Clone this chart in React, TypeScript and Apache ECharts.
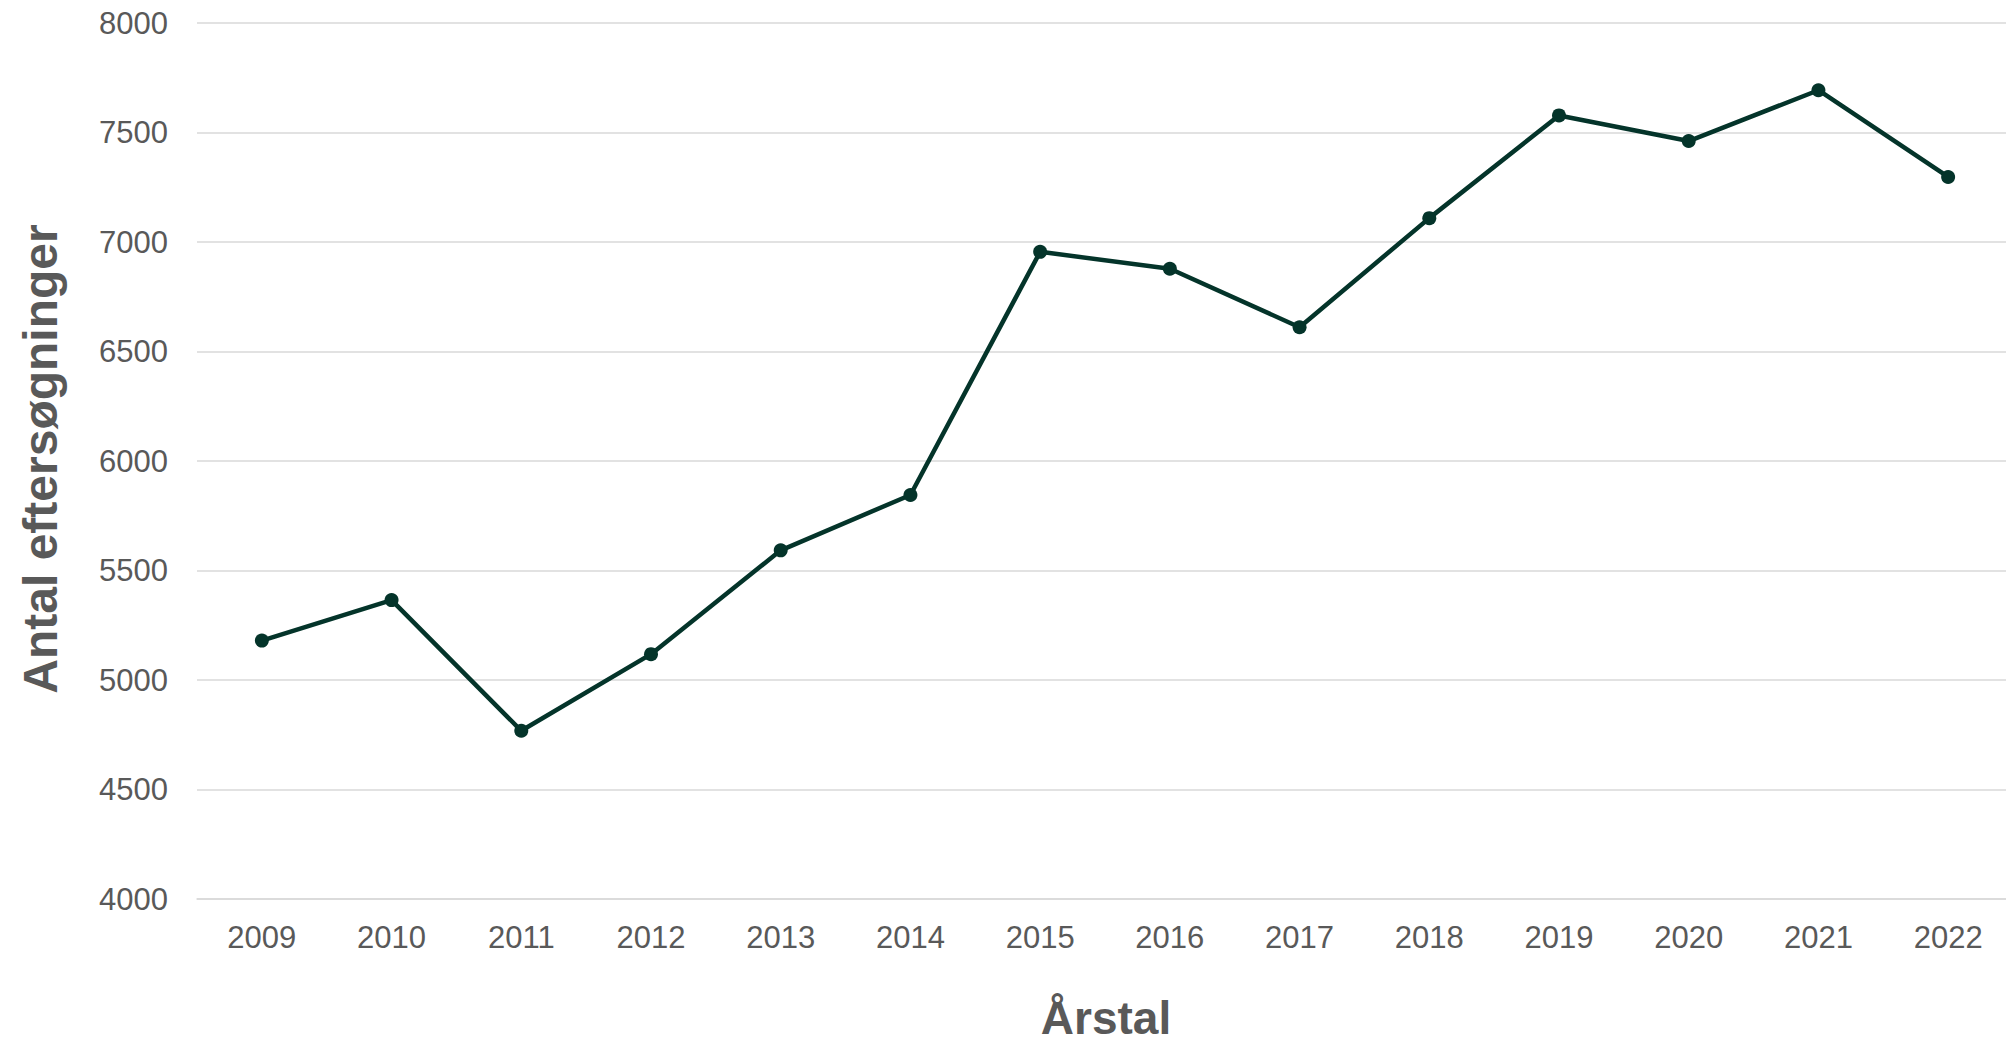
import React, { useEffect, useRef } from "react";
import * as echarts from "echarts";

const years = ["2009", "2010", "2011", "2012", "2013", "2014", "2015", "2016", "2017", "2018", "2019", "2020", "2021", "2022"];
const searches = [5180, 5365, 4768, 5118, 5592, 5845, 6955, 6878, 6611, 7109, 7578, 7461, 7693, 7297];
const yTicks = { min: 4000, max: 8000, interval: 500 };
const xTitle = "Årstal";
const yTitle = "Antal eftersøgninger";

export default function App() {
  const ref = useRef<HTMLDivElement>(null);
  useEffect(() => {
    document.body.style.margin = "0";
    document.body.style.overflow = "hidden";
    document.documentElement.style.overflow = "hidden";
    const chart = echarts.init(ref.current!, null, { renderer: "svg" });
    const font = "'Liberation Sans', Arial, sans-serif";
    chart.setOption({
      animation: false,
      backgroundColor: "#ffffff",
      grid: { left: 197, top: 23, width: 1816, height: 876, containLabel: false },
      xAxis: {
        type: "category",
        data: years,
        boundaryGap: true,
        axisLine: { show: true, lineStyle: { color: "#d9d9d9", width: 1.5 } },
        axisTick: { show: false },
        axisLabel: { color: "#595959", fontSize: 31, fontFamily: font, margin: 23 },
      },
      yAxis: {
        type: "value",
        min: yTicks.min,
        max: yTicks.max,
        interval: yTicks.interval,
        axisLine: { show: false },
        axisTick: { show: false },
        axisLabel: {
          color: "#595959",
          fontSize: 31,
          fontFamily: font,
          margin: 29,
          formatter: (v: number) => String(v),
        },
        splitLine: { lineStyle: { color: "#d9d9d9", width: 1.5 } },
      },
      graphic: [
        {
          type: "text",
          x: 1106,
          y: 1018,
          style: {
            text: xTitle,
            fill: "#595959",
            font: `bold 46px ${font}`,
            textAlign: "center",
            textVerticalAlign: "middle",
          },
        },
        {
          type: "text",
          x: 40,
          y: 459,
          rotation: Math.PI / 2,
          style: {
            text: yTitle,
            fill: "#595959",
            font: `bold 48px ${font}`,
            textAlign: "center",
            textVerticalAlign: "middle",
          },
        },
      ],
      series: [
        {
          type: "line",
          data: searches,
          symbol: "circle",
          symbolSize: 14,
          lineStyle: { color: "#04342a", width: 4.5 },
          itemStyle: { color: "#04342a" },
        },
      ],
    });
    return () => chart.dispose();
  }, []);
  return <div ref={ref} style={{ position: "absolute", left: 0, top: 0, width: 2020, height: 1041 }} />;
}
